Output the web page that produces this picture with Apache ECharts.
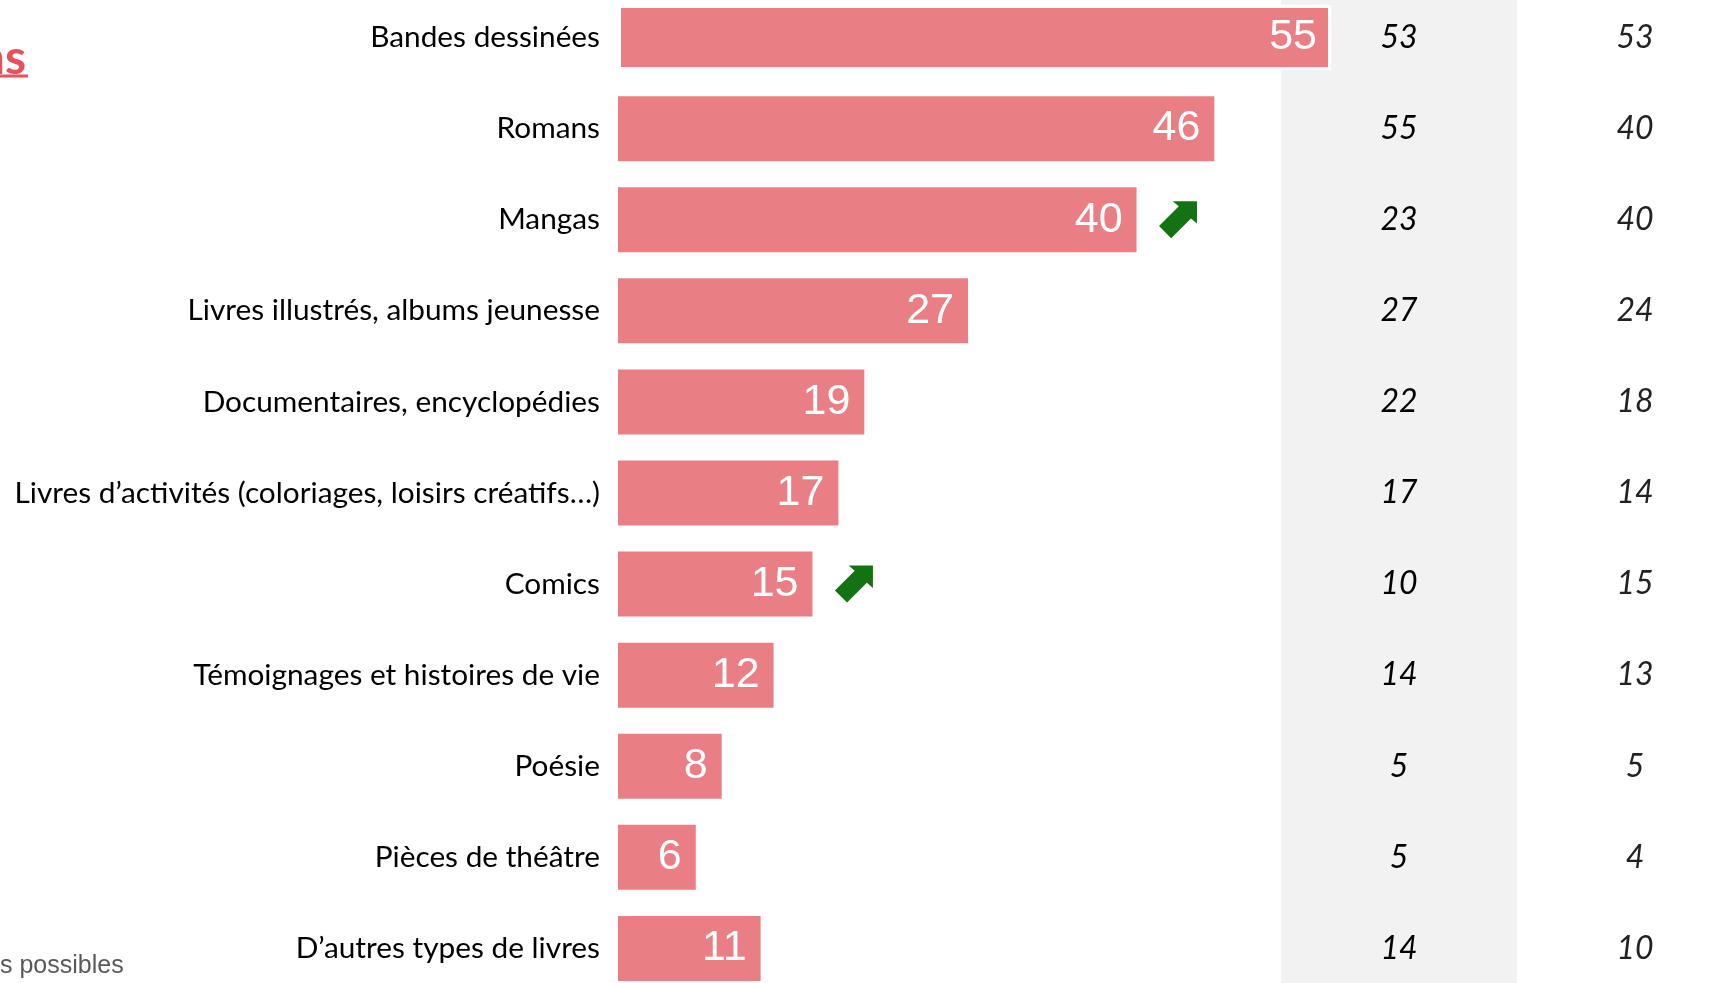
<!DOCTYPE html>
<html>
<head>
<meta charset="utf-8">
<script src="https://cdn.jsdelivr.net/npm/echarts@6/dist/echarts.min.js"></script>
<style>
  html, body { margin: 0; padding: 0; background: #fff; overflow: hidden; }
  /* le graphique déborde un peu en haut et en bas, comme la diapo d'origine */
  #chart { position: absolute; left: 0; top: -8px; width: 1732px; height: 1002px; }
</style>
</head>
<body>
<div id="chart"></div>
<script>
// Genres de livres lus (en %)
const categories = [
  'Bandes dessinées',
  'Romans',
  'Mangas',
  'Livres illustrés, albums jeunesse',
  'Documentaires, encyclopédies',
  'Livres d’activités (coloriages, loisirs créatifs…)',
  'Comics',
  'Témoignages et histoires de vie',
  'Poésie',
  'Pièces de théâtre',
  'D’autres types de livres'
];
const valeurs = [55, 46, 40, 27, 19, 17, 15, 12, 8, 6, 11];
const colonne1 = [53, 55, 23, 27, 22, 17, 10, 14, 5, 5, 14];
const colonne2 = [53, 40, 40, 24, 18, 14, 15, 13, 5, 4, 10];
const hausse = [false, false, true, false, false, false, true, false, false, false, false];

var chartDom = document.getElementById('chart');
var myChart = echarts.init(chartDom);

// flèche verte (vers le haut à droite)
const fleche = 'path://M38,0 L38,22 L32,17 L12.5,36.5 L0.5,24.5 L20,5 L14,0 Z';

let fleches = [];
for (let i = 0; i < valeurs.length; i++) {
  if (hausse[i]) fleches.push([valeurs[i] + 3.2, i]);
}

const colonne = (vals, idx, couleur) => ({
  type: 'scatter',
  xAxisIndex: idx,
  yAxisIndex: idx,
  silent: true,
  symbolSize: 1,
  itemStyle: { color: 'transparent', opacity: 1 },
  data: vals.map((v, i) => [0.5, i]),
  label: {
    show: true,
    position: 'inside',
    formatter: (p) => String(vals[p.dataIndex]),
    fontFamily: 'Lato',
    fontStyle: 'italic',
    fontSize: 32,
    color: couleur
  }
});

const option = {
  animation: false,
  backgroundColor: '#fff',
  grid: [
    { left: 618, width: 713, top: 0, height: 1002 },
    { left: 1281, width: 236, top: 0, height: 1002, show: true, backgroundColor: '#F2F2F2', borderWidth: 0 },
    { left: 1560, width: 150, top: 0, height: 1002 }
  ],
  xAxis: [
    { gridIndex: 0, type: 'value', min: 0, max: 55, show: false },
    { gridIndex: 1, type: 'value', min: 0, max: 1, show: false },
    { gridIndex: 2, type: 'value', min: 0, max: 1, show: false }
  ],
  yAxis: [
    {
      gridIndex: 0,
      type: 'category',
      data: categories,
      inverse: true,
      axisLine: { show: false },
      axisTick: { show: false },
      axisLabel: { margin: 18, fontFamily: 'Lato', fontSize: 29.8, color: '#000' }
    },
    { gridIndex: 1, type: 'category', data: categories, inverse: true, show: false },
    { gridIndex: 2, type: 'category', data: categories, inverse: true, show: false }
  ],
  series: [
    {
      type: 'bar',
      barWidth: 65,
      data: valeurs.map((v, i) => i === 0
        ? { value: v, itemStyle: { borderColor: '#fff', borderWidth: 3 } }
        : v),
      itemStyle: { color: '#E97F84' },
      label: {
        show: true,
        position: 'insideRight',
        distance: 14,
        color: '#fff',
        fontFamily: 'Liberation Sans',
        fontSize: 43
      },
      z: 3
    },
    {
      type: 'scatter',
      data: fleches,
      symbol: fleche,
      symbolSize: [38, 37],
      itemStyle: { color: '#137313', opacity: 1 },
      silent: true,
      z: 4
    },
    colonne(colonne1, 1, '#000'),
    colonne(colonne2, 2, '#222')
  ],
  graphic: [
    {
      type: 'text',
      x: 26,
      y: 67,
      style: { text: 'ns', font: 'bold 48px Lato', fill: '#E8505B', align: 'right', verticalAlign: 'middle' }
    },
    {
      type: 'line',
      shape: { x1: 0, y1: 84, x2: 28, y2: 84 },
      style: { stroke: '#E8505B', lineWidth: 3 }
    },
    {
      type: 'text',
      x: 0,
      y: 974,
      style: { text: 's possibles', font: '25px "Liberation Sans"', fill: '#595959', verticalAlign: 'middle' }
    }
  ]
};

option && myChart.setOption(option);
</script>
</body>
</html>
